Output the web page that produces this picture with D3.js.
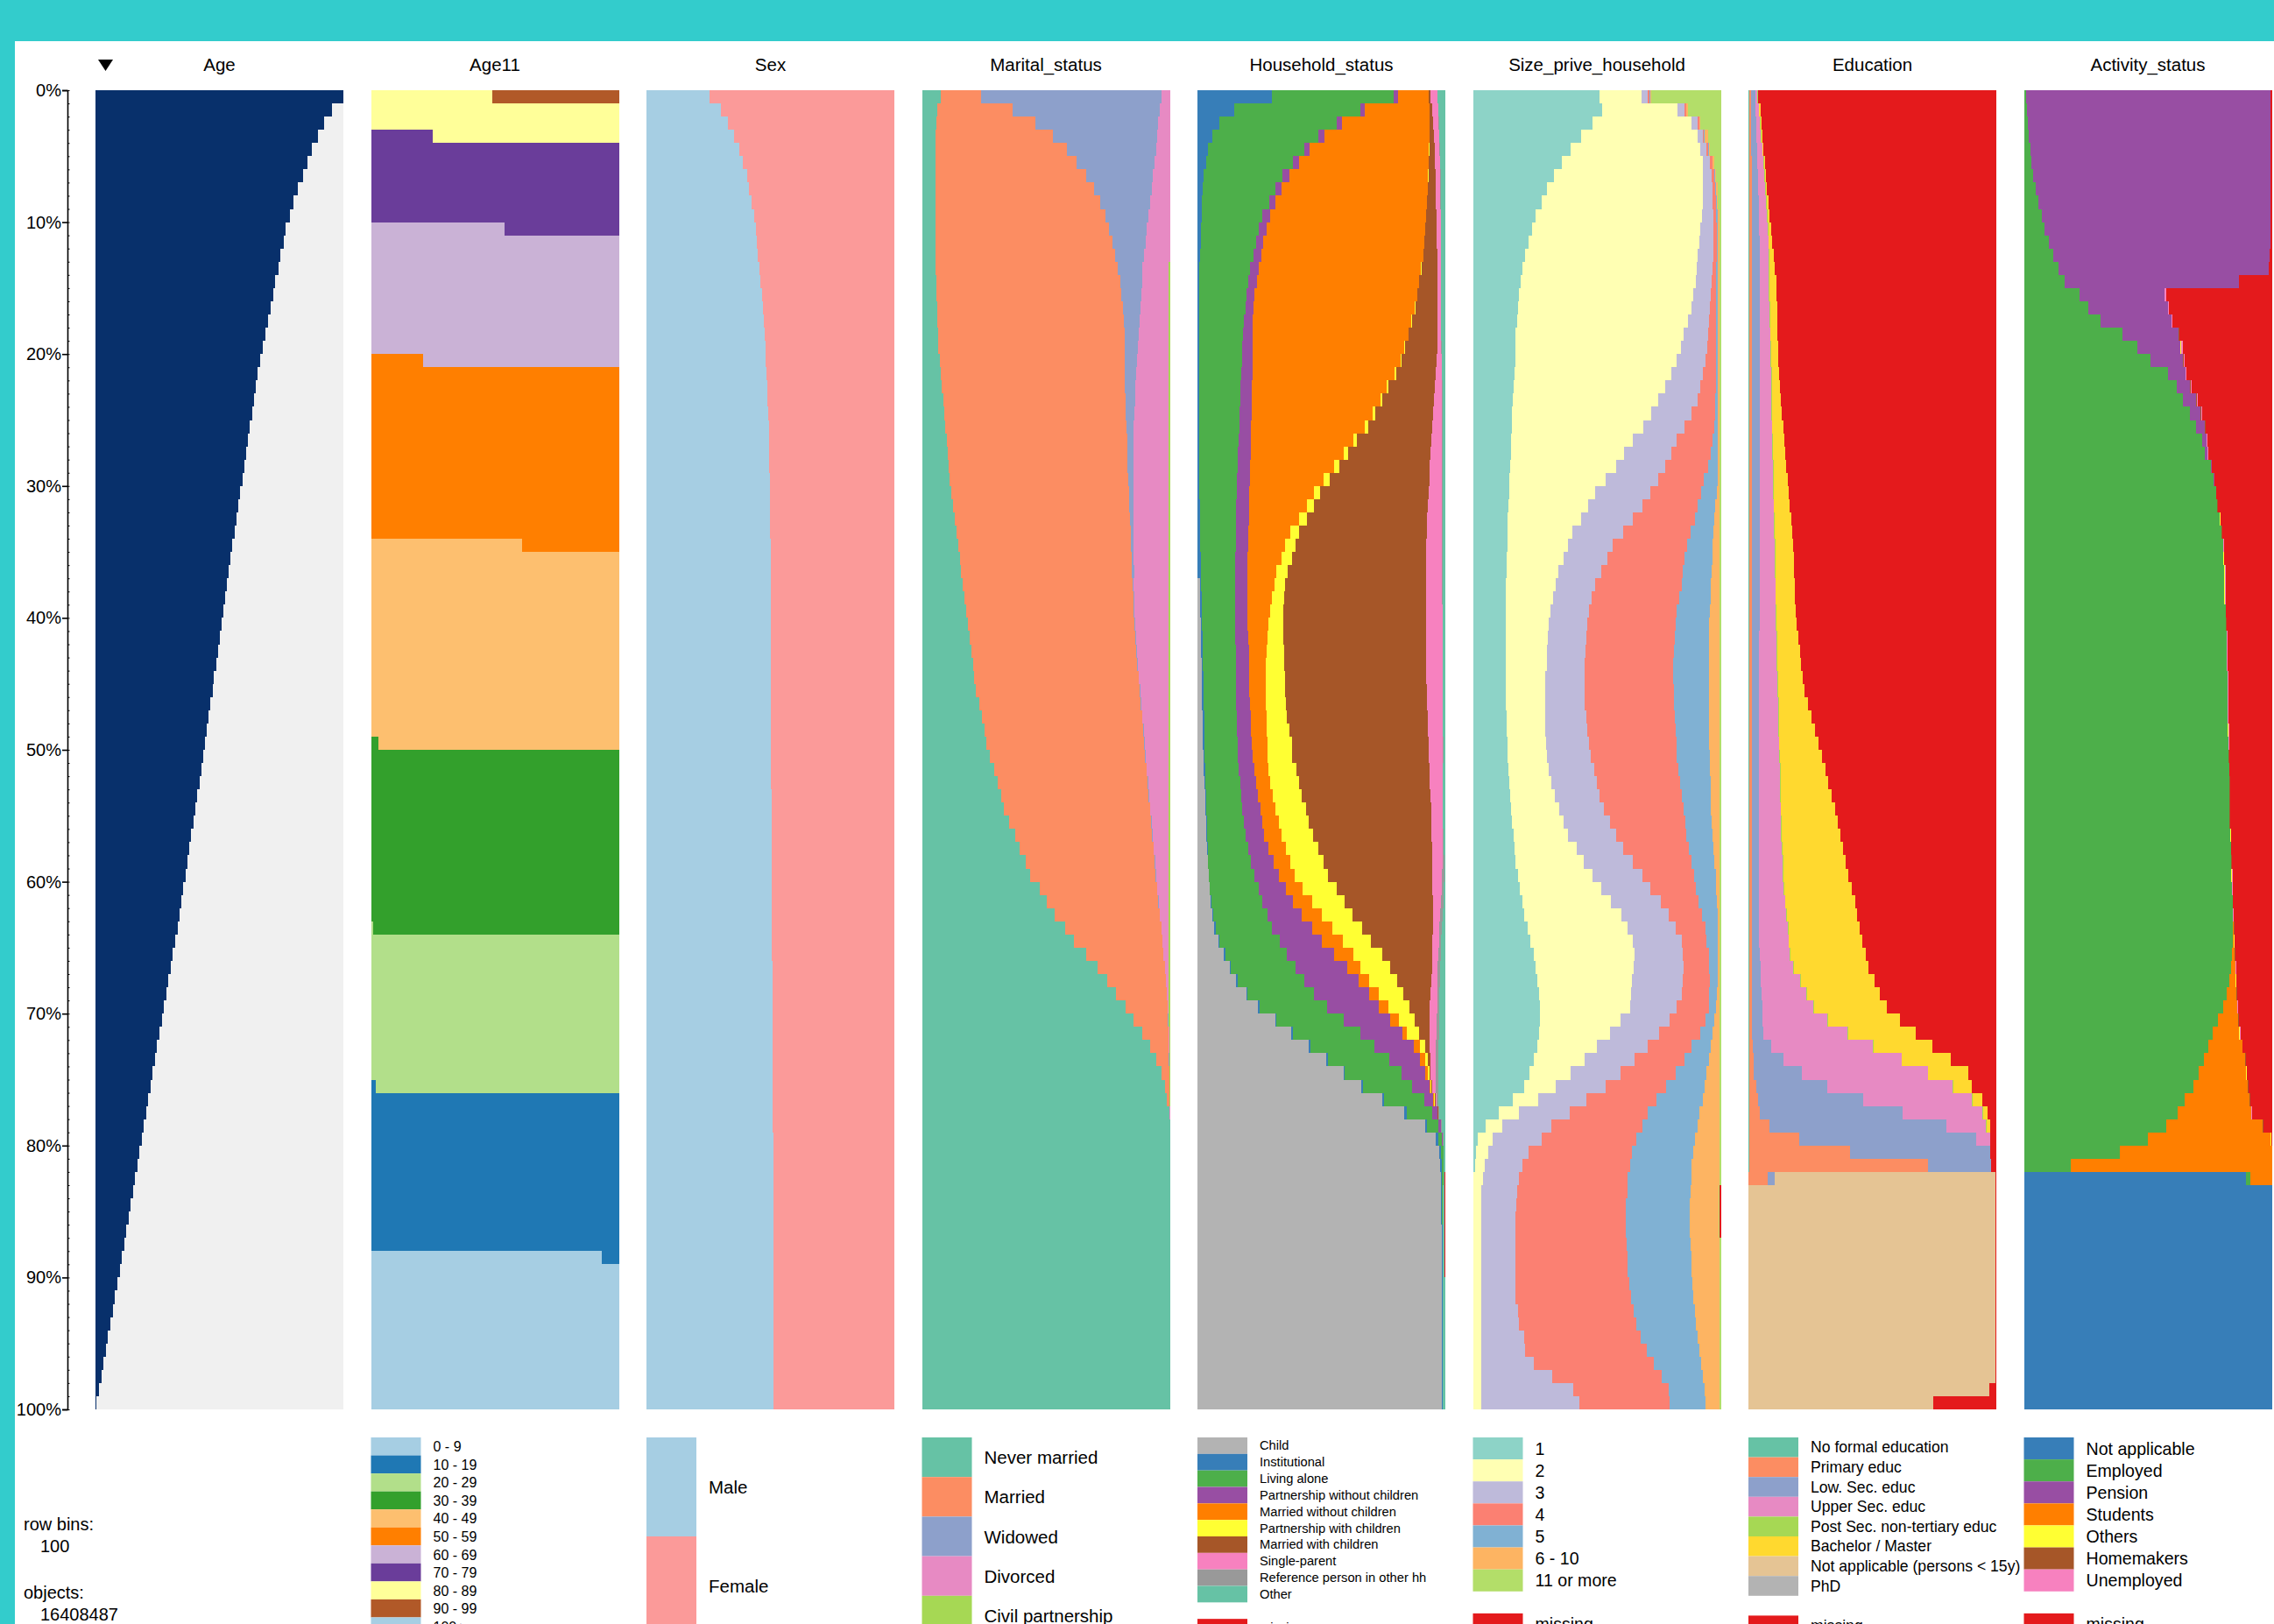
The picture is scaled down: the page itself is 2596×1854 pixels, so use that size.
<!DOCTYPE html>
<html>
<head>
<meta charset="utf-8">
<script src="https://cdn.jsdelivr.net/npm/d3@7"></script>
<style>
  body { margin: 0; background: #33cccc; }
  svg text { font-family: "Liberation Sans", Arial, Helvetica, sans-serif; fill: #000; }
</style>
</head>
<body>
<svg id="tableplot" width="2596" height="1854"></svg>
<script>
//////// Data: 100 row bins, sorted on Age (oldest first)
var nBins = 100
var nObjects = 16408487

// mean age of each bin
var ageMean = [
  90.5,86.2,83.4,81.1,79.1,77.4,75.7,74.0,72.4,70.9,
  69.5,68.6,67.6,66.7,65.7,64.8,63.8,62.9,61.9,61.0,
  60.0,59.3,58.6,57.9,57.1,56.4,55.7,55.0,54.3,53.6,
  52.9,52.1,51.4,50.7,50.0,49.3,48.7,48.0,47.3,46.7,
  46.0,45.3,44.7,44.0,43.3,42.7,42.0,41.3,40.7,40.0,
  39.3,38.6,37.9,37.1,36.4,35.7,35.0,34.3,33.6,32.9,
  32.1,31.4,30.7,30.0,29.2,28.3,27.5,26.7,25.8,25.0,
  24.2,23.3,22.5,21.7,20.8,20.0,19.2,18.4,17.6,16.8,
  16.0,15.2,14.4,13.6,12.8,12.0,11.2,10.4,9.6,8.8,
  7.9,7.1,6.3,5.4,4.6,3.8,2.9,2.1,1.3,0.4
]

// Age11: [category index, % of bin] for each bin
var age11Cats = ["0 - 9","10 - 19","20 - 29","30 - 39","40 - 49","50 - 59","60 - 69","70 - 79","80 - 89","90 - 99","100+"]
var age11Colors = ["#a6cee3","#1f78b4","#b2df8a","#33a02c","#fdbf6f","#ff7f00","#cab2d6","#6a3d9a","#ffff99","#b15928","#a6cee3"]
var age11Bins = [
  [[8,49],[9,51]], [[8,100]], [[8,100]], [[7,25],[8,75]], [[7,100]],
  [[7,100]], [[7,100]], [[7,100]], [[7,100]], [[7,100]],
  [[6,54],[7,46]], [[6,100]], [[6,100]], [[6,100]], [[6,100]],
  [[6,100]], [[6,100]], [[6,100]], [[6,100]], [[6,100]],
  [[5,21],[6,79]], [[5,100]], [[5,100]], [[5,100]], [[5,100]],
  [[5,100]], [[5,100]], [[5,100]], [[5,100]], [[5,100]],
  [[5,100]], [[5,100]], [[5,100]], [[5,100]], [[4,61],[5,39]],
  [[4,100]], [[4,100]], [[4,100]], [[4,100]], [[4,100]],
  [[4,100]], [[4,100]], [[4,100]], [[4,100]], [[4,100]],
  [[4,100]], [[4,100]], [[4,100]], [[4,100]], [[3,3],[4,97]],
  [[3,100]], [[3,100]], [[3,100]], [[3,100]], [[3,100]],
  [[3,100]], [[3,100]], [[3,100]], [[3,100]], [[3,100]],
  [[3,100]], [[3,100]], [[3,100]], [[2,1],[3,99]], [[2,100]],
  [[2,100]], [[2,100]], [[2,100]], [[2,100]], [[2,100]],
  [[2,100]], [[2,100]], [[2,100]], [[2,100]], [[2,100]],
  [[1,2],[2,98]], [[1,100]], [[1,100]], [[1,100]], [[1,100]],
  [[1,100]], [[1,100]], [[1,100]], [[1,100]], [[1,100]],
  [[1,100]], [[1,100]], [[1,100]], [[0,93],[1,7]], [[0,100]],
  [[0,100]], [[0,100]], [[0,100]], [[0,100]], [[0,100]],
  [[0,100]], [[0,100]], [[0,100]], [[0,100]], [[0,100]]
]

// For the other columns: right edge (% of bin) of each category, 0 where the
// category is absent; the last category (or "missing") fills up to 100.

// Sex
var sexCats = ["Male","Female"]
var sexColors = ["#a6cee3","#fb9a99"]
var sexMale = [
  25.5,30.0,33.0,35.5,37.5,39.0,40.5,41.5,42.5,43.5,
  44.0,44.5,45.0,45.5,46.0,46.5,47.0,47.3,47.6,47.9,
  48.2,48.5,48.7,48.9,49.1,49.3,49.4,49.5,49.6,49.7,
  49.8,49.8,49.9,49.9,50.0,50.0,50.0,50.1,50.1,50.1,
  50.2,50.2,50.2,50.2,50.2,50.2,50.3,50.3,50.3,50.3,
  50.3,50.3,50.3,50.4,50.4,50.4,50.4,50.5,50.5,50.5,
  50.6,50.6,50.6,50.7,50.7,50.7,50.8,50.8,50.8,50.8,
  50.9,50.9,50.9,50.9,51.0,51.0,51.0,51.0,51.0,51.1,
  51.1,51.1,51.1,51.1,51.2,51.2,51.2,51.2,51.2,51.2,
  51.2,51.2,51.2,51.2,51.2,51.2,51.2,51.2,51.2,51.2
]

// Marital_status
var marCats = ["Never married","Married","Widowed","Divorced","Civil partnership"]
var marColors = ["#66c2a5","#fc8d62","#8da0cb","#e78ac3","#a6d854"]
var marNever = [
  7.7,6.2,5.9,5.6,5.5,5.4,5.4,5.4,5.4,5.4,
  5.4,5.4,5.4,5.5,5.7,5.7,6.1,6.1,6.6,6.6,
  7.1,7.5,8.0,8.5,9.1,9.4,9.9,10.4,10.8,11.3,
  11.9,12.5,13.2,13.9,14.6,15.2,15.8,16.5,17.2,17.9,
  18.5,19.1,19.8,20.5,21.2,21.9,23.1,24.1,25.2,26.1,
  27.3,29.0,30.4,31.9,33.1,35.1,37.5,39.3,41.7,43.8,
  47.4,50.4,53.7,57.7,61.2,66.4,70.7,74.7,78.4,82.0,
  85.5,89.0,91.9,94.5,96.5,98.0,98.9,99.7,100,100,
  100,100,100,100,100,100,100,100,100,100,
  100,100,100,100,100,100,100,100,100,100
]
var marMarried = [
  23.9,36.7,45.8,52.8,58.5,62.5,66.3,69.5,71.9,74.2,
  75.6,76.9,78.0,79.0,80.0,80.3,81.0,81.6,81.7,81.7,
  81.7,81.7,81.8,82.0,82.2,82.6,82.7,82.8,83.0,83.3,
  83.4,83.6,83.9,84.1,84.3,84.6,84.8,85.0,85.3,85.5,
  85.7,86.1,86.5,86.9,87.3,87.8,88.2,88.7,89.2,89.6,
  90.1,90.6,91.0,91.5,92.0,92.5,92.9,93.4,93.9,94.3,
  94.8,95.3,95.9,96.5,96.9,97.4,97.9,98.3,98.7,99.1,
  99.2,99.4,99.5,99.6,99.8,99.9,99.9,99.9,0,0,
  0,0,0,0,0,0,0,0,0,0,
  0,0,0,0,0,0,0,0,0,0
]
var marWidowed = [
  96.6,95.9,95.4,94.9,94.5,93.8,93.2,92.6,92.0,91.4,
  90.8,90.2,89.6,89.0,88.8,88.5,88.1,87.7,87.5,87.2,
  86.8,86.5,86.2,86.0,85.7,85.5,85.5,85.4,85.4,85.3,
  85.3,85.3,85.4,85.4,85.5,85.5,85.6,85.3,85.6,85.8,
  86.0,86.4,86.8,87.2,87.6,88.1,88.5,89.0,89.5,89.9,
  90.3,90.8,91.2,91.7,92.2,92.7,93.1,93.6,94.1,94.5,
  95.0,95.5,96.0,96.6,97.0,97.5,98.0,98.4,98.8,99.2,
  99.3,99.5,99.6,99.7,99.8,99.9,99.9,99.9,0,0,
  0,0,0,0,0,0,0,0,0,0,
  0,0,0,0,0,0,0,0,0,0
]
var marDivorced = [
  100,100,100,100,100,100,100,100,100,100,
  100,100,100,99.6,99.6,99.6,99.6,99.6,99.6,99.6,
  99.6,99.6,99.6,99.6,99.6,99.6,99.6,99.6,99.6,99.6,
  99.6,99.4,99.4,99.4,99.4,99.4,99.4,99.4,99.4,99.4,
  99.4,99.4,99.4,99.4,99.4,99.4,99.4,99.4,99.4,99.4,
  99.4,99.4,99.4,99.4,99.4,99.4,99.5,99.5,99.5,99.5,
  99.5,99.5,99.5,99.5,99.5,99.5,99.5,99.5,99.5,99.5,
  99.5,99.8,99.8,99.8,99.8,99.9,99.9,100,0,0,
  0,0,0,0,0,0,0,0,0,0,
  0,0,0,0,0,0,0,0,0,0
]

// Household_status
var hhCats = ["Child","Institutional","Living alone","Partnership without children","Married without children",
  "Partnership with children","Married with children","Single-parent","Reference person in other hh","Other"]
var hhColors = ["#b3b3b3","#377eb8","#4daf4a","#984ea3","#ff7f00","#ffff33","#a65628","#f781bf","#999999","#66c2a5"]
var hhChild = [
  0,0,0,0,0,0,0,0,0,0,
  0,0,0,0,0,0,0,0,0,0,
  0,0,0,0,0,0,0,0,0,0,
  0,0,0,0,0,0,0,0.9,0.9,1.2,
  1.3,1.4,1.5,1.6,1.8,1.8,1.9,2.0,2.1,2.2,
  2.4,2.6,2.8,3.1,3.3,3.4,3.6,3.9,4.1,4.5,
  4.8,5.4,6.0,6.8,8.6,10.6,13.0,15.6,19.7,24.4,
  31.3,37.9,45.0,52.1,58.9,66.0,74.7,83.5,91.7,96.1,
  97.5,98.0,98.2,98.3,98.3,98.3,98.7,98.7,98.7,98.7,
  98.7,98.7,98.7,98.7,98.7,98.7,98.7,98.7,98.7,98.7
]
var hhInst = [
  30.0,14.7,8.9,6.0,4.2,3.5,2.5,2.1,1.8,1.6,
  1.4,1.3,1.2,0.6,0.6,0.6,0.6,0.6,0.6,0.6,
  0.6,0.6,0.6,0.6,0.6,0.6,0.6,0.6,0.6,0.6,
  0.6,0.9,1.1,1.1,1.2,1.3,1.3,1.5,1.6,1.8,
  1.9,2.0,2.1,2.2,2.4,2.5,2.6,2.7,2.8,2.9,
  2.9,3.1,3.3,3.5,3.6,3.8,3.9,4.1,4.3,4.7,
  5.1,5.6,6.3,7.3,9.0,11.2,13.6,16.2,20.3,25.0,
  31.8,38.5,45.6,52.6,59.3,66.7,75.4,84.4,92.6,97.2,
  98.2,98.5,98.6,98.6,98.6,98.6,98.8,98.8,98.8,98.8,
  98.8,98.8,98.8,98.8,98.8,98.8,98.8,98.8,98.8,98.8
]
var hhAlone = [
  79.3,65.9,56.3,48.9,43.1,38.5,34.4,31.3,28.8,26.3,
  24.9,23.5,22.6,21.3,20.4,19.7,19.3,18.6,18.3,18.1,
  17.9,17.6,17.4,17.3,17.0,16.8,16.6,16.3,16.1,16.0,
  15.9,15.7,15.6,15.5,15.4,15.3,15.3,15.3,15.2,15.2,
  15.3,15.3,15.4,15.5,15.6,15.7,15.7,15.9,16.0,16.1,
  16.2,16.6,17.2,17.6,18.1,18.8,19.5,20.6,21.5,23.0,
  24.7,26.2,28.2,30.1,33.3,36.2,39.5,43.0,47.0,52.4,
  59.0,65.6,71.4,77.4,82.3,86.7,91.4,94.7,97.3,98.5,
  99.2,99.2,99.2,98.9,98.9,98.9,98.8,98.8,98.8,98.8,
  98.8,98.8,98.8,98.8,98.8,98.8,98.8,98.8,98.8,98.8
]
var hhPartNoKids = [
  80.8,67.6,58.4,51.2,45.4,41.0,37.1,33.8,31.6,29.3,
  27.8,26.6,25.9,24.6,23.9,23.1,22.7,22.3,22.2,22.1,
  22.1,22.1,22.0,22.0,21.9,21.7,21.6,21.5,21.3,21.2,
  20.9,20.8,20.7,20.6,20.4,20.3,20.2,20.2,20.1,20.1,
  20.2,20.4,20.7,20.8,20.9,21.0,21.3,21.5,21.7,22.0,
  22.1,22.8,23.5,24.4,25.3,26.2,27.0,28.6,30.6,32.7,
  35.6,38.5,42.1,46.2,50.1,55.0,60.5,65.0,69.1,73.2,
  77.7,82.6,87.3,89.8,91.8,93.5,95.2,96.7,98.2,98.9,
  99.3,99.3,99.3,99.0,99.0,99.0,98.9,98.9,98.9,98.9,
  98.9,98.9,98.9,98.9,98.9,98.9,98.9,98.9,98.9,98.9
]
var hhMarNoKids = [
  93.2,93.5,93.5,93.5,93.4,93.3,93.1,92.8,92.5,92.1,
  91.8,91.4,91.0,90.2,89.4,88.6,87.8,86.3,85.1,83.5,
  82.0,79.4,76.4,73.9,70.7,67.6,62.9,58.9,55.0,51.0,
  47.0,44.1,41.1,37.4,35.5,33.8,31.7,31.1,30.0,29.3,
  28.7,28.3,28.0,27.7,27.6,27.6,27.7,27.8,28.0,28.2,
  28.2,28.7,29.4,30.3,31.3,32.7,33.8,35.6,37.4,39.2,
  42.4,46.2,50.3,54.4,58.5,63.0,65.6,69.3,73.2,77.1,
  81.1,84.4,89.7,92.0,92.8,94.0,95.5,96.8,98.3,99.0,
  99.3,99.3,99.3,99.0,99.0,99.0,98.9,98.9,98.9,98.9,
  98.9,98.9,98.9,98.9,98.9,98.9,98.9,98.9,98.9,98.9
]
var hhPartKids = [
  93.4,93.6,93.6,93.6,93.5,93.4,93.2,92.9,92.6,92.2,
  91.9,91.5,91.1,90.3,89.5,88.7,87.9,86.4,85.3,83.7,
  82.3,80.1,77.1,74.6,71.8,68.9,64.3,60.9,57.2,53.3,
  49.6,46.9,44.3,41.0,39.4,38.0,36.5,35.5,35.0,34.8,
  34.7,34.8,34.9,35.1,35.3,35.5,35.7,36.1,37.0,38.0,
  38.3,40.0,41.1,42.1,43.9,45.0,46.8,48.8,50.9,52.6,
  56.2,59.2,62.6,66.4,69.8,74.4,77.7,80.6,83.2,85.5,
  87.7,89.4,92.0,92.9,93.5,94.5,95.9,96.9,98.3,99.0,
  99.3,99.3,99.3,99.0,99.0,99.0,98.9,98.9,98.9,98.9,
  98.9,98.9,98.9,98.9,98.9,98.9,98.9,98.9,98.9,98.9
]
var hhMarKids = [
  94.0,94.7,95.2,95.5,95.8,95.9,96.0,96.1,96.2,96.4,
  96.5,96.6,96.7,96.8,96.8,96.8,96.8,96.8,96.7,96.7,
  96.5,96.1,95.8,95.4,95.1,94.7,94.5,94.1,93.8,93.5,
  93.2,92.9,92.7,92.5,92.4,92.1,92.1,92.1,92.1,92.1,
  92.1,92.1,92.2,92.2,92.4,92.6,92.7,92.8,92.9,93.2,
  93.2,93.5,93.8,94.0,94.2,94.5,94.5,94.6,94.7,94.8,
  94.8,94.9,94.9,94.9,94.8,94.7,94.6,94.4,94.1,93.8,
  93.5,93.8,93.8,93.9,94.0,94.7,96.0,97.1,98.3,99.0,
  99.3,99.3,99.3,99.0,99.0,99.0,98.9,98.9,98.9,98.9,
  98.9,98.9,98.9,98.9,98.9,98.9,98.9,98.9,98.9,98.9
]
var hhSingle = [
  96.7,97.1,97.3,97.5,97.6,97.8,97.9,98.0,98.0,98.1,
  98.1,98.1,98.2,98.2,98.2,98.2,98.2,98.2,98.2,98.4,
  98.5,98.5,98.6,98.6,98.7,98.7,98.7,98.7,98.7,98.7,
  98.7,98.7,98.7,98.7,98.7,98.7,98.7,98.7,98.7,98.8,
  98.8,98.8,98.8,98.8,98.8,98.8,98.9,98.9,98.9,99.0,
  99.0,98.9,98.9,98.9,98.9,98.9,99.0,99.0,98.9,98.7,
  98.5,98.2,97.9,97.7,97.4,97.2,96.9,96.8,96.7,96.7,
  96.6,96.4,96.2,96.0,96.0,96.0,96.3,97.2,98.4,99.1,
  99.3,99.3,99.3,99.0,99.0,99.0,98.9,98.9,98.9,98.9,
  98.9,98.9,98.9,98.9,98.9,98.9,98.9,98.9,98.9,98.9
]
var hhRefOther = [
  96.9,97.3,97.5,97.7,97.8,98.0,98.1,98.2,98.2,98.3,
  98.3,98.3,98.4,98.4,98.4,98.4,98.4,98.4,98.4,98.6,
  98.7,98.7,98.8,98.8,98.9,98.9,98.9,98.9,98.9,98.9,
  98.9,98.9,98.9,98.9,98.9,98.9,98.9,98.9,98.9,99.0,
  99.0,99.0,99.0,99.0,99.0,99.0,99.1,99.1,99.1,99.2,
  99.2,99.1,99.1,99.1,99.1,99.1,99.2,99.2,99.6,99.5,
  99.4,99.2,98.9,98.7,98.4,98.2,97.9,97.8,97.7,97.7,
  97.6,97.4,97.2,97.0,97.0,97.0,97.3,97.5,98.7,99.4,
  99.4,99.4,99.4,99.1,99.1,99.1,99.0,99.0,99.0,99.0,
  99.0,99.0,99.0,99.0,99.0,99.0,99.0,99.0,99.0,99.0
]
var hhOther = [
  100,100,100,100,100,100,100,100,100,100,
  100,100,100,100,100,100,100,100,100,100,
  100,100,100,100,100,100,100,100,100,100,
  100,100,100,100,100,100,100,100,100,100,
  100,100,100,100,100,100,100,100,100,100,
  100,100,100,100,100,100,100,100,100,100,
  100,100,100,100,100,100,100,100,100,100,
  100,100,100,100,100,100,100,100,100,100,
  100,100,99.5,99.5,99.5,99.5,99.5,99.5,99.5,99.5,
  100,100,100,100,100,100,100,100,100,100
]

// Size_prive_household
var sizeCats = ["1","2","3","4","5","6 - 10","11 or more"]
var sizeColors = ["#8dd3c7","#ffffb3","#bebada","#fb8072","#80b1d3","#fdb462","#b3de69"]
var size1 = [
  51.1,52.1,48.2,43.5,39.3,35.8,32.6,29.9,27.7,25.2,
  23.7,22.5,21.1,20.1,19.3,18.7,18.3,17.8,17.3,17.1,
  17.0,16.7,16.4,16.1,15.9,15.7,15.5,15.3,15.1,14.8,
  14.6,14.4,14.1,14.0,13.8,13.7,13.5,13.4,13.3,13.2,
  13.1,13.1,13.1,13.1,13.2,13.3,13.4,13.5,13.7,13.8,
  14.0,14.3,14.6,15.0,15.3,15.8,16.3,16.7,17.3,18.1,
  19.0,19.9,20.8,22.0,23.2,24.4,25.4,26.0,26.6,27.0,
  27.2,26.7,25.8,24.6,22.9,20.5,16.1,10.5,5.2,1.9,
  1.1,0.8,0.1,0,0,0,0,0,0,0,
  0,0,0,0,0,0,0,0,0,0
]
var size2 = [
  68.0,82.6,88.0,90.6,91.8,92.7,92.9,92.9,92.7,92.3,
  91.8,91.3,90.8,90.3,89.8,88.9,88.0,86.6,85.0,83.9,
  82.3,80.0,77.4,74.7,72.0,68.7,64.4,61.1,57.6,53.5,
  49.4,46.4,43.7,40.2,38.2,36.4,34.6,33.5,32.5,31.3,
  30.7,30.3,29.9,29.7,29.3,29.1,29.1,29.1,29.3,29.6,
  30.0,30.6,31.7,32.9,34.7,36.4,38.2,41.7,44.6,48.2,
  51.7,55.8,59.9,62.3,64.4,65.3,64.7,64.1,63.7,63.5,
  59.6,55.2,50.1,44.9,39.3,33.5,26.4,18.7,11.9,8.1,
  6.1,4.6,4.0,3.4,3.4,3.4,3.4,3.4,3.4,3.4,
  3.4,3.4,3.4,3.4,3.4,3.4,3.4,3.4,3.4,3.4
]
var size3 = [
  70.6,85.3,90.6,92.7,94.3,95.5,96.2,96.5,96.7,97.1,
  97.1,97.1,97.1,96.5,96.2,95.9,95.6,95.3,94.8,94.5,
  93.9,92.9,91.8,90.6,88.2,85.3,82.3,80.0,77.6,74.7,
  71.5,68.2,64.4,60.5,56.4,54.1,51.7,49.4,47.9,46.8,
  46.1,45.6,45.3,45.1,45.0,45.0,45.2,45.6,46.1,46.8,
  47.6,48.8,49.9,51.1,52.9,55.2,57.6,60.5,64.4,68.2,
  71.7,75.9,78.8,81.7,84.1,84.7,84.9,84.7,84.1,82.3,
  79.2,75.0,70.6,65.3,59.7,53.5,45.8,39.0,31.7,27.6,
  22.5,19.9,18.7,17.9,17.6,17.2,17.0,17.0,17.0,17.0,
  17.0,17.3,18.1,18.7,20.5,21.1,24.6,31.9,40.5,43.1
]
var size4 = [
  71.3,85.9,91.2,93.2,94.8,96.5,97.2,97.6,97.9,98.2,
  98.3,98.3,98.3,98.2,98.1,98.0,98.2,98.2,98.1,98.1,
  98.0,98.0,97.9,97.8,97.6,97.4,96.7,95.9,94.8,93.2,
  92.0,90.8,89.4,87.9,86.5,85.4,84.7,84.1,83.2,82.3,
  81.9,81.4,81.2,80.9,80.9,81.0,81.2,81.4,81.7,82.0,
  82.3,83.0,83.5,84.2,84.9,85.6,86.2,87.0,88.0,89.2,
  90.1,90.9,92.3,93.9,94.3,95.1,95.4,95.5,95.4,95.1,
  93.9,91.8,88.2,85.3,81.7,78.0,74.1,70.6,68.2,65.8,
  64.1,63.3,62.5,62.2,61.8,61.7,61.7,61.9,62.2,62.5,
  63.0,63.7,64.7,65.8,67.6,70.0,72.9,76.2,78.8,79.4
]
var size5 = [
  71.5,86.1,91.4,93.5,95.2,96.8,97.6,98.1,98.4,98.7,
  98.8,98.9,98.9,98.9,98.9,98.9,98.9,98.8,98.8,98.8,
  98.8,98.8,98.8,98.8,98.8,98.8,98.8,98.8,98.8,98.7,
  98.4,97.8,97.4,97.1,96.7,96.5,96.2,96.0,95.9,95.6,
  95.4,95.3,95.2,95.2,95.1,95.1,95.1,95.1,95.3,95.4,
  95.5,95.6,95.8,95.9,96.0,96.2,96.7,97.1,97.4,97.9,
  98.2,98.5,98.6,98.8,98.8,98.8,98.7,98.6,98.5,98.0,
  97.4,96.7,96.0,95.3,94.3,93.5,92.6,91.5,90.5,89.4,
  88.8,88.2,88.0,87.8,87.6,87.6,87.6,87.8,88.0,88.2,
  88.6,89.0,89.5,90.1,90.7,91.3,92.0,92.9,93.5,93.9
]
var size6to10 = [
  72.0,86.6,91.8,94.7,95.5,97.2,98.0,98.6,98.9,99.3,
  99.5,99.5,99.5,99.5,99.5,99.5,99.5,99.5,99.5,99.5,
  99.5,99.5,99.5,99.5,99.5,99.6,99.6,99.6,99.6,99.6,
  99.6,99.6,99.6,99.6,99.6,99.6,99.6,99.6,99.6,99.6,
  99.6,99.6,99.6,99.6,99.6,99.6,99.6,99.6,99.6,99.6,
  99.6,99.6,99.6,99.6,99.6,99.6,99.6,99.6,99.6,99.6,
  99.6,99.6,99.6,99.6,99.6,99.6,99.6,99.6,99.6,99.6,
  99.6,99.6,99.6,99.6,99.6,99.6,99.6,99.6,99.6,99.6,
  99.6,99.6,99.6,99.0,99.0,99.0,99.0,99.5,99.5,99.5,
  99.5,99.5,99.5,99.5,99.5,99.5,99.5,99.5,99.5,99.5
]
var size11plus = [
  100,100,100,100,100,100,100,100,100,100,
  100,100,100,100,100,100,100,100,100,100,
  100,100,100,100,100,100,100,100,100,100,
  100,100,100,100,100,100,100,100,100,100,
  100,100,100,100,100,100,100,100,100,100,
  100,100,100,100,100,100,100,100,100,100,
  100,100,100,100,100,100,100,100,100,100,
  100,100,100,100,100,100,100,100,100,100,
  100,100,100,99.5,99.5,99.5,99.5,100,100,100,
  100,100,100,100,100,100,100,100,100,100
]

// Education
var eduCats = ["No formal education","Primary educ","Low. Sec. educ","Upper Sec. educ","Post Sec. non-tertiary educ",
  "Bachelor / Master","Not applicable (persons < 15y)","PhD"]
var eduColors = ["#66c2a5","#fc8d62","#8da0cb","#e78ac3","#a6d854","#ffd92f","#e5c494","#b3b3b3"]
var eduNone = [
  0.2,0.2,0.2,0.2,0.2,0.2,0.2,0.2,0.2,0.2,
  0.2,0.2,0.2,0.2,0.2,0.2,0.2,0.2,0.2,0.2,
  0.2,0.2,0.2,0.2,0.2,0.2,0.2,0.2,0.2,0.2,
  0.2,0.2,0.2,0.2,0.2,0.2,0.2,0.2,0.2,0.2,
  0.2,0.2,0.2,0.2,0.2,0.2,0.2,0.2,0.2,0.2,
  0.2,0.2,0.2,0.2,0.2,0.2,0.2,0.2,0.2,0.2,
  0.2,0.2,0.2,0.2,0.2,0.2,0.2,0.2,0.2,0.2,
  0.2,0.2,0.2,0.2,0.2,0.2,0.2,0.2,0.2,0.2,
  0.2,0.2,0,0,0,0,0,0,0,0,
  0,0,0,0,0,0,0,0,0,0
]
var eduPrimary = [
  1.0,1.0,1.0,1.0,1.0,1.5,1.5,1.5,1.5,1.5,
  1.5,1.5,1.5,1.5,1.5,1.5,1.5,1.5,1.5,1.5,
  1.5,1.5,1.5,1.5,1.5,1.5,1.5,1.5,1.5,1.5,
  1.5,1.5,1.5,1.5,1.5,1.5,1.5,1.5,1.5,1.5,
  1.5,1.4,1.4,1.4,1.4,1.4,1.4,1.4,1.4,1.4,
  1.4,1.4,1.4,1.4,1.4,1.4,1.4,1.4,1.4,1.4,
  1.4,1.4,1.4,1.4,1.4,1.4,1.4,1.4,1.4,1.4,
  1.4,1.4,1.8,2.2,2.2,3.1,3.9,4.6,8.5,20.5,
  41.1,72.3,7.9,0,0,0,0,0,0,0,
  0,0,0,0,0,0,0,0,0,0
]
var eduLowSec = [
  2.8,3.0,3.1,3.3,3.4,3.6,3.9,4.0,4.1,4.2,
  4.4,4.6,4.6,4.6,4.6,4.6,4.6,4.6,4.6,4.6,
  4.6,4.6,4.6,4.6,4.6,4.6,4.6,4.6,4.6,4.6,
  4.6,4.6,4.6,4.6,4.6,4.6,4.6,4.6,4.6,4.6,
  4.6,4.4,4.4,4.4,4.4,4.4,4.4,4.4,4.4,4.4,
  4.4,4.4,4.4,4.4,4.4,4.4,4.4,4.4,4.4,4.4,
  4.4,4.2,4.2,4.2,4.2,4.6,4.8,5.1,5.3,5.5,
  5.5,6.0,9.1,14.0,21.7,31.7,46.4,62.1,80.0,92.0,
  97.6,97.9,10.5,0,0,0,0,0,0,0,
  0,0,0,0,0,0,0,0,0,0
]
var eduUpperSec = [
  3.7,4.1,4.6,5.1,5.5,6.0,6.4,6.7,7.2,7.5,
  7.8,8.0,8.1,8.1,8.2,8.2,8.5,8.6,8.7,8.8,
  9.0,9.1,9.1,9.2,9.3,9.4,9.5,9.7,9.8,9.9,
  10.0,10.1,10.2,10.4,10.5,10.6,10.7,10.8,10.8,11.0,
  11.1,11.2,11.3,11.4,11.7,11.8,11.9,12.0,12.1,12.2,
  12.5,12.6,12.7,12.8,12.9,13.1,13.2,13.4,13.7,13.9,
  14.3,14.7,15.2,15.8,16.1,16.6,18.1,20.8,23.4,26.1,
  31.7,39.9,50.3,61.7,72.3,82.3,90.0,94.5,95.9,97.4,
  97.6,97.9,10.5,0,0,0,0,0,0,0,
  0,0,0,0,0,0,0,0,0,0
]
var eduPostSec = [
  4.0,4.4,4.9,5.4,5.8,6.3,6.7,7.0,7.5,7.8,
  8.1,8.3,8.4,8.4,8.5,8.5,8.8,8.9,9.0,9.1,
  9.3,9.4,9.4,9.5,9.6,9.7,9.8,10.0,10.1,10.2,
  10.3,10.4,10.5,10.7,10.8,10.9,11.0,11.1,11.1,11.3,
  11.4,11.5,11.6,11.7,12.0,12.1,12.2,12.3,12.4,12.5,
  12.8,12.9,13.0,13.1,13.2,13.4,13.5,13.7,14.0,14.2,
  14.6,15.0,15.5,16.1,16.4,16.9,18.4,21.1,23.7,26.4,
  32.0,40.2,50.6,62.0,72.6,82.6,90.3,94.8,96.2,97.5,
  97.6,97.9,10.5,0,0,0,0,0,0,0,
  0,0,0,0,0,0,0,0,0,0
]
var eduBachelor = [
  4.0,4.8,5.2,5.5,6.0,6.6,6.9,7.4,8.0,8.5,
  9.1,9.7,10.2,10.7,11.2,11.4,11.7,11.7,11.8,11.9,
  12.1,12.4,12.8,13.2,13.5,14.0,14.6,15.0,15.3,15.9,
  16.3,16.7,17.2,17.7,18.0,18.3,18.5,18.6,18.8,19.2,
  19.6,20.1,20.7,21.3,21.9,22.6,24.0,25.6,26.7,28.2,
  29.6,31.1,32.3,33.7,35.1,36.0,37.2,38.3,39.2,40.4,
  41.6,43.1,43.9,44.9,46.1,47.2,48.4,50.8,53.1,55.8,
  61.1,67.6,74.3,81.7,88.6,90.0,94.3,96.5,97.4,97.6,
  97.6,97.9,10.5,0,0,0,0,0,0,0,
  0,0,0,0,0,0,0,0,0,0
]
var eduNotAppl = [
  0,0,0,0,0,0,0,0,0,0,
  0,0,0,0,0,0,0,0,0,0,
  0,0,0,0,0,0,0,0,0,0,
  0,0,0,0,0,0,0,0,0,0,
  0,0,0,0,0,0,0,0,0,0,
  0,0,0,0,0,0,0,0,0,0,
  0,0,0,0,0,0,0,0,0,0,
  0,0,0,0,0,0,0,0,0,0,
  0,0,99.5,99.5,99.5,99.5,99.5,99.5,99.5,99.5,
  99.5,99.5,99.5,99.5,99.5,99.5,99.5,99.5,97.3,74.7
]
var eduPhd = [
  0,0,0,0,0,0,0,0,0,0,
  0,0,0,0,0,0,0,0,0,0,
  0,0,0,0,0,0,0,0,0,0,
  0,0,0,0,0,0,0,0,0,0,
  0,0,0,0,0,0,0,0,0,0,
  0,0,0,0,0,0,0,0,0,0,
  0,0,0,0,0,0,0,0,0,0,
  0,0,0,0,0,0,0,0,0,0,
  0,0,0,0,0,0,0,0,0,0,
  0,0,0,0,0,0,0,0,0,0
]

// Activity_status
var actCats = ["Not applicable","Employed","Pension","Students","Others","Homemakers","Unemployed"]
var actColors = ["#377eb8","#4daf4a","#984ea3","#ff7f00","#ffff33","#a65628","#f781bf"]
var actNotAppl = [
  0,0,0,0,0,0,0,0,0,0,
  0,0,0,0,0,0,0,0,0,0,
  0,0,0,0,0,0,0,0,0,0,
  0,0,0,0,0,0,0,0,0,0,
  0,0,0,0,0,0,0,0,0,0,
  0,0,0,0,0,0,0,0,0,0,
  0,0,0,0,0,0,0,0,0,0,
  0,0,0,0,0,0,0,0,0,0,
  0,0,89.6,100,100,100,100,100,100,100,
  100,100,100,100,100,100,100,100,100,100
]
var actEmployed = [
  0.9,1.3,1.7,2.0,2.5,3.1,3.7,4.8,5.8,7.2,
  8.4,10.1,11.9,14.0,16.6,22.3,25.8,30.9,39.7,45.6,
  50.9,58.0,61.8,64.2,67.1,69.5,71.8,73.1,75.5,76.5,
  77.4,77.9,79.1,79.7,80.3,80.5,80.9,80.9,80.9,81.3,
  81.5,81.7,81.7,81.7,82.1,82.1,82.1,82.1,82.3,82.4,
  82.5,82.7,82.9,82.9,82.9,82.9,83.3,83.4,83.6,83.7,
  83.8,84.1,84.2,84.3,84.4,84.0,83.6,83.0,81.8,80.4,
  78.3,76.2,74.5,72.6,70.6,68.2,64.7,62.0,57.3,50.0,
  38.8,18.9,91.5,0,0,0,0,0,0,0,
  0,0,0,0,0,0,0,0,0,0
]
var actPension = [
  99.3,99.3,99.3,99.3,99.3,99.3,99.3,99.3,99.3,99.3,
  99.3,99.3,99.1,98.6,86.6,56.6,58.0,59.4,62.4,63.2,
  64.2,65.1,67.0,69.5,71.2,73.0,73.6,73.9,75.7,76.7,
  77.5,0,0,0,0,0,0,0,0,0,
  0,0,0,0,0,0,0,0,0,0,
  0,0,0,0,0,0,0,0,0,0,
  0,0,0,0,0,0,0,0,0,0,
  0,0,0,0,0,0,0,0,0,0,
  0,0,0,0,0,0,0,0,0,0,
  0,0,0,0,0,0,0,0,0,0
]
var actStudents = [
  0,0,0,0,0,0,0,0,0,0,
  0,0,0,0,0,0,0,0,0,0,
  0,0,0,0,0,0,0,0,0,0,
  0,0,0,0,0,0,0,0,0,0,
  0,0,0,0,0,0,0,0,0,0,
  0,0,0,0,0,0,0,0,0,0,
  0,0,0,84.7,84.8,85.0,85.3,85.5,85.7,86.0,
  86.4,86.9,88.0,89.2,89.7,90.3,91.0,91.6,96.3,99.6,
  100,100,100,0,0,0,0,0,0,0,
  0,0,0,0,0,0,0,0,0,0
]
var actOthers = [
  0,0,0,0,0,0,0,0,0,0,
  0,0,0,0,0,56.7,58.1,59.5,62.5,63.3,
  64.3,65.2,67.1,69.6,71.3,73.1,73.7,74.0,75.8,76.8,
  77.6,78.0,79.2,79.8,80.4,80.6,81.0,81.0,81.0,81.4,
  81.6,81.8,81.8,81.8,82.2,82.2,82.2,82.2,82.4,82.5,
  82.6,82.8,83.0,83.0,83.0,83.0,83.4,83.5,83.7,83.8,
  83.9,84.2,84.3,84.8,84.9,85.1,85.4,85.6,85.8,86.1,
  86.5,87.0,88.1,89.3,89.8,90.4,91.1,91.7,96.4,99.7,
  0,0,0,0,0,0,0,0,0,0,
  0,0,0,0,0,0,0,0,0,0
]
var actHome = [
  0,0,0,0,0,0,0,0,0,0,
  0,0,0,0,0,56.8,58.2,59.6,62.6,63.4,
  64.4,65.3,67.2,69.7,71.4,73.2,73.8,74.1,75.9,76.9,
  77.7,78.1,79.3,79.9,80.5,80.7,81.1,81.1,81.1,81.5,
  81.7,81.9,81.9,81.9,82.3,82.3,82.3,82.3,82.5,82.6,
  82.7,82.9,83.1,83.1,83.1,83.1,83.5,83.6,83.8,83.9,
  84.0,84.3,84.4,84.9,85.0,85.2,85.5,85.7,85.9,86.2,
  86.6,87.1,88.2,89.4,89.9,90.5,91.2,91.8,96.5,99.8,
  0,0,0,0,0,0,0,0,0,0,
  0,0,0,0,0,0,0,0,0,0
]
var actUnemployed = [
  99.3,99.3,99.3,99.3,99.3,99.3,99.3,99.3,99.3,99.3,
  99.3,99.3,99.1,98.6,86.6,57.3,58.6,60.0,62.7,64.2,
  64.7,65.6,67.7,70.0,71.8,73.3,74.2,74.5,75.9,76.9,
  77.7,78.3,79.5,80.1,80.7,80.9,81.3,81.3,81.3,81.6,
  81.8,82.1,82.1,82.1,82.4,82.4,82.4,82.4,82.7,82.8,
  82.9,83.0,83.3,83.3,83.3,83.3,83.6,83.7,84.0,84.1,
  84.2,84.4,84.7,84.9,85.1,85.4,85.6,85.8,86.1,86.3,
  86.8,87.3,88.3,89.5,90.1,90.7,91.3,91.9,96.6,99.8,
  0,0,0,0,0,0,0,0,0,0,
  0,0,0,0,0,0,0,0,0,0
]

var missingColor = "#e41a1c"

//////// Helpers
// turn right-edge arrays into per-bin shares; the remainder goes to the last key
function binShares(edges) {
  return d3.range(nBins).map(i => {
    var row = {}, done = 0
    edges.forEach((e, k) => {
      row[k] = Math.max(0, e[i] - done)
      done = Math.max(done, e[i])
    })
    row[edges.length] = Math.max(0, 100 - done)
    return row
  })
}

var age11Rows = age11Bins.map(bin => {
  var row = {}
  age11Cats.forEach((c, k) => row[k] = 0)
  bin.forEach(p => row[p[0]] = p[1])
  return row
})

var columns = [
  { title: "Age" },
  { title: "Age11", cats: age11Cats, colors: age11Colors, rows: age11Rows, missing: false },
  { title: "Sex", cats: sexCats, colors: sexColors, rows: binShares([sexMale]), missing: false },
  { title: "Marital_status", cats: marCats, colors: marColors,
    rows: binShares([marNever, marMarried, marWidowed, marDivorced]), missing: false },
  { title: "Household_status", cats: hhCats, colors: hhColors,
    rows: binShares([hhChild, hhInst, hhAlone, hhPartNoKids, hhMarNoKids, hhPartKids, hhMarKids, hhSingle, hhRefOther, hhOther]), missing: true },
  { title: "Size_prive_household", cats: sizeCats, colors: sizeColors,
    rows: binShares([size1, size2, size3, size4, size5, size6to10, size11plus]), missing: true },
  { title: "Education", cats: eduCats, colors: eduColors,
    rows: binShares([eduNone, eduPrimary, eduLowSec, eduUpperSec, eduPostSec, eduBachelor, eduNotAppl, eduPhd]), missing: true },
  { title: "Activity_status", cats: actCats, colors: actColors,
    rows: binShares([actNotAppl, actEmployed, actPension, actStudents, actOthers, actHome, actUnemployed]), missing: true }
]

//////// Layout
var W = 2596, H = 1854
var plotTop = 103, plotBottom = 1609
var colW = 283, colStep = 314.5, colLeft = 109
var legendTop = 1641, legendH = 226, swatchW = 57

var svg = d3.select("#tableplot")
svg.append("rect").attr("width", W).attr("height", H).attr("fill", "#33cccc")
svg.append("rect").attr("x", 17).attr("y", 47).attr("width", W - 17).attr("height", H - 47).attr("fill", "white")

var yBin = d3.scaleLinear().domain([0, nBins]).range([plotTop, plotBottom])
var yPct = d3.scaleLinear().domain([0, 100]).range([plotTop, plotBottom])

// y axis with % labels and 1% minor ticks
var axisG = svg.append("g").attr("transform", "translate(77,0)")
  .call(d3.axisLeft(yPct).tickValues(d3.range(0, 101, 10)).tickFormat(d => d + "%").tickSize(6).tickPadding(1))
axisG.selectAll("text").attr("font-size", 20).attr("font-family", null)
axisG.selectAll("path,line").attr("stroke-width", 1.6)
svg.append("g").attr("transform", "translate(77,0)")
  .call(d3.axisRight(yPct).tickValues(d3.range(0, 101, 1)).tickSize(2.5).tickFormat(""))
  .call(g => g.select(".domain").remove())

columns.forEach((col, i) => {
  var x0 = colLeft + i * colStep
  var x = d3.scaleLinear().domain([0, 100]).range([x0, x0 + colW])

  svg.append("text").attr("x", x0 + colW / 2).attr("y", 81)
    .attr("text-anchor", "middle").attr("font-size", 20.5).text(col.title)

  if (!col.cats) {
    // numeric column: bars of the mean
    var xAge = d3.scaleLinear().domain([0, d3.max(ageMean)]).range([x0, x0 + colW])
    var g = svg.append("g").attr("shape-rendering", "crispEdges")
    g.append("rect").attr("x", x0).attr("y", plotTop).attr("width", colW)
      .attr("height", plotBottom - plotTop).attr("fill", "#f0f0f0")
    g.selectAll(".bar").data(ageMean).join("rect")
      .attr("x", x0).attr("y", (d, b) => yBin(b))
      .attr("width", d => xAge(d) - x0).attr("height", (d, b) => yBin(b + 1) - yBin(b))
      .attr("fill", "#08306b")
    // sort marker
    svg.append("path").attr("d", "M112,68L129,68L120.5,81Z").attr("fill", "#000")
    return
  }

  var keys = d3.range(col.cats.length + (col.missing ? 1 : 0))
  var colors = col.missing ? col.colors.concat([missingColor]) : col.colors
  var series = d3.stack().keys(keys)(col.rows)

  svg.append("g").attr("shape-rendering", "crispEdges")
    .selectAll("g").data(series).join("g").attr("fill", s => colors[s.key])
    .selectAll("rect")
    .data(s => s.map((d, b) => ({ a: d[0], z: d[1], b: b })).filter(d => d.z - d.a > 0.01))
    .join("rect")
    .attr("x", d => x(d.a)).attr("width", d => x(d.z) - x(d.a))
    .attr("y", d => yBin(d.b)).attr("height", d => yBin(d.b + 1) - yBin(d.b))

  //////// legend
  var items = col.cats.map((c, k) => ({ label: c, color: col.colors[k], slot: k }))
  if (col.missing) items.push({ label: "missing", color: missingColor, slot: col.cats.length + 1 })
  var slots = col.cats.length + (col.missing ? 2 : 0)
  var h = legendH / slots
  var fs = Math.min(20.5, h * 0.78)
  var lg = svg.append("g")
  lg.selectAll("rect").data(items).join("rect")
    .attr("x", x0).attr("y", d => legendTop + d.slot * h)
    .attr("width", swatchW).attr("height", h).attr("fill", d => d.color)
  lg.selectAll("text").data(items).join("text")
    .attr("x", x0 + 71).attr("y", d => legendTop + d.slot * h + h / 2)
    .attr("dominant-baseline", "central").attr("font-size", fs).text(d => d.label)
})

//////// row bins / objects
var info = [["row bins:", 27, 1747], [String(nBins), 46, 1772], ["objects:", 27, 1825], [String(nObjects), 46, 1850]]
svg.selectAll(".info").data(info).join("text")
  .attr("x", d => d[1]).attr("y", d => d[2]).attr("font-size", 20).text(d => d[0])
</script>
</body>
</html>
